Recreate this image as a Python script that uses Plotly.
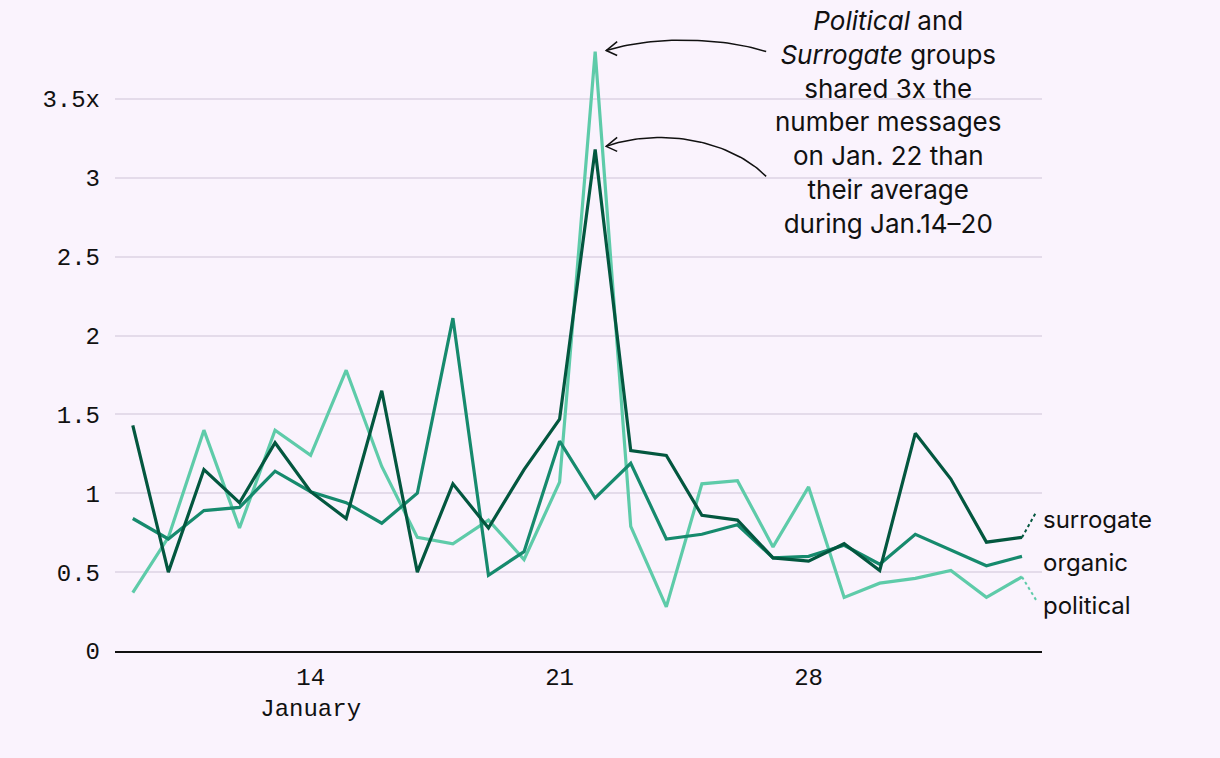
import plotly.graph_objects as go
import pandas as pd

# ---------------- data ----------------
dates = pd.date_range("2024-01-09", "2024-02-03", freq="D").strftime("%Y-%m-%d").tolist()

surrogate = [1.43, 0.50, 1.15, 0.94, 1.32, 1.01, 0.84, 1.65, 0.50, 1.06,
             0.78, 1.15, 1.47, 3.18, 1.27, 1.24, 0.86, 0.83, 0.59, 0.57,
             0.68, 0.51, 1.38, 1.09, 0.69, 0.72]
organic = [0.84, 0.71, 0.89, 0.91, 1.14, 1.01, 0.94, 0.81, 1.00, 2.11,
           0.48, 0.63, 1.33, 0.97, 1.19, 0.71, 0.74, 0.80, 0.59, 0.60,
           0.67, 0.55, 0.74, 0.64, 0.54, 0.60]
political = [0.37, 0.72, 1.40, 0.78, 1.40, 1.24, 1.78, 1.17, 0.72, 0.68,
             0.83, 0.58, 1.07, 3.80, 0.79, 0.28, 1.06, 1.08, 0.66, 1.04,
             0.34, 0.43, 0.46, 0.51, 0.34, 0.47]

series_names = ["surrogate", "organic", "political"]
y_tickvals = [0, 0.5, 1, 1.5, 2, 2.5, 3, 3.5]
y_ticktext = ["0", "0.5", "1", "1.5", "2", "2.5", "3", "3.5x"]
x_tickvals = ["2024-01-14", "2024-01-21", "2024-01-28"]
x_ticktext = ["14<br>January", "21", "28"]

annotation_lines = [
    "<i>Political</i> and",
    "<i>Surrogate</i> groups",
    "shared 3x the",
    "number messages",
    "on Jan. 22 than",
    "their average",
    "during Jan.14\u201320",
]

# ---------------- style ----------------
BG = "#faf3fd"
GRID = "#e4dbea"
C_SUR = "#03573f"
C_ORG = "#168a6d"
C_POL = "#5ecba9"
MONO = "Liberation Mono"
SANS = "Inter"

W, H = 1220, 758
ML, MR, MT, MB = 115, 178, 20, 107
x0 = pd.Timestamp(dates[0]) - pd.Timedelta(hours=12)
x1 = pd.Timestamp(dates[-1]) + pd.Timedelta(hours=13.5)
YMAX = 4.0

plot_w = W - ML - MR
plot_h = H - MT - MB
px_per_day = plot_w / ((x1 - x0).total_seconds() / 86400)
px_per_unit = plot_h / YMAX


def offset(date, val, dpx, dpy):
    """Offset a data point by pixel amounts (dpy positive = down)."""
    t = pd.Timestamp(date) + pd.Timedelta(days=dpx / px_per_day)
    return t, val - dpy / px_per_unit


def cubic(p0, p1, p2, p3, n=40):
    xs, ys = [], []
    for i in range(n + 1):
        t = i / n
        a, b, c, d = (1 - t) ** 3, 3 * (1 - t) ** 2 * t, 3 * (1 - t) * t ** 2, t ** 3
        xs.append(a * p0[0] + b * p1[0] + c * p2[0] + d * p3[0])
        ys.append(a * p0[1] + b * p1[1] + c * p2[1] + d * p3[1])
    return xs, ys


fig = go.Figure()

for name, vals, col in [("political", political, C_POL),
                        ("organic", organic, C_ORG),
                        ("surrogate", surrogate, C_SUR)]:
    fig.add_trace(go.Scatter(x=dates, y=vals, mode="lines", name=name,
                             line=dict(color=col, width=3.2), showlegend=False))

# end labels with dotted connectors
last = dates[-1]
label_specs = [("surrogate", surrogate[-1], C_SUR, -18, -25),
               ("organic", organic[-1], C_ORG, 6, 0),
               ("political", political[-1], C_POL, 29, 23)]
label_x_paper = (plot_w - 1) / plot_w
for name, v, col, dpy, cdy in label_specs:
    if cdy:
        cx, cy = offset(last, v, 14, cdy)
        fig.add_trace(go.Scatter(x=[last, cx], y=[v, cy], mode="lines",
                                 line=dict(color=col, width=2, dash="dot"),
                                 showlegend=False, hoverinfo="skip"))
    _, ly = offset(last, v, 0, dpy)
    fig.add_annotation(x=label_x_paper, y=ly, xref="paper", yref="y", text=name,
                       showarrow=False, xanchor="left", yanchor="middle",
                       font=dict(family=SANS, size=24, color="#111"))

# curved arrows to the peaks (pixel offsets relative to the peak point)
peak_i = political.index(max(political))
peak_date = dates[peak_i]


def pt(val, dpx, dpy):
    t, y = offset(peak_date, val, dpx, dpy)
    return (t.value, y)


arrow_defs = [
    (political[peak_i], [(171, 0), (124, -15), (54, -15), (11, -1)], -1),
    (surrogate[peak_i], [(171, 27), (134, -10), (64, -22), (11, -3)], -3),
]
for val, ctrl, tipdy in arrow_defs:
    pts = [pt(val, dx, dy) for dx, dy in ctrl]
    xs, ys = cubic(*pts)
    fig.add_trace(go.Scatter(x=pd.to_datetime(xs), y=ys, mode="lines",
                             line=dict(color="#111", width=1.5),
                             showlegend=False, hoverinfo="skip"))
    a1 = pt(val, 22, tipdy - 9)
    tip = pt(val, 11, tipdy)
    a2 = pt(val, 22, tipdy + 5)
    fig.add_trace(go.Scatter(x=pd.to_datetime([a1[0], tip[0], a2[0]]),
                             y=[a1[1], tip[1], a2[1]], mode="lines",
                             line=dict(color="#111", width=1.5),
                             showlegend=False, hoverinfo="skip"))

fig.add_annotation(x=(888 - ML) / plot_w, y=(H - MB - 3) / plot_h,
                   xref="paper", yref="paper",
                   text="<br>".join(annotation_lines), showarrow=False,
                   align="center", xanchor="center", yanchor="top",
                   font=dict(family=SANS, size=26, color="#111"))

fig.update_layout(
    width=W, height=H,
    margin=dict(l=ML, r=MR, t=MT, b=MB),
    paper_bgcolor=BG, plot_bgcolor=BG,
    showlegend=False,
    xaxis=dict(type="date", range=[x0, x1], tickvals=x_tickvals,
               ticktext=x_ticktext, showgrid=False, zeroline=False,
               showline=True, linecolor="#111", linewidth=2,
               ticks="", ticklabelstandoff=3,
               tickfont=dict(family=MONO, size=24, color="#111")),
    yaxis=dict(range=[0, YMAX], tickvals=y_tickvals, ticktext=y_ticktext,
               showgrid=True, gridcolor=GRID, gridwidth=2, zeroline=False,
               showline=False, ticks="", ticklabelstandoff=14,
               tickfont=dict(family=MONO, size=24, color="#111")),
)

fig.write_html("out.html", config={"displayModeBar": False},
               post_script="document.body.style.margin='0';"
                           "document.body.style.backgroundColor='#faf3fd';")
